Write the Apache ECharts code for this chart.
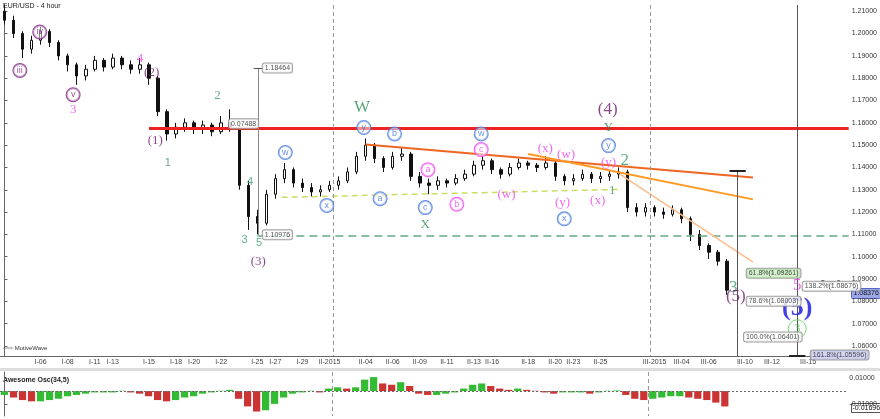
<!DOCTYPE html>
<html><head><meta charset="utf-8">
<script src="https://cdn.jsdelivr.net/npm/echarts@6/dist/echarts.min.js"></script>
<style>html,body{margin:0;padding:0;background:#fff}#c{width:880px;height:419px}</style>
</head><body><div id="c"></div>
<script>
const SLOTS = 94;
const labelSlots = [4,7,10,12,16,19,21,24,28,30,33,36,40,43,46,49,52,54,58,61,63,66,72,75,78,82,85,89];
const labelTexts = ['I-06','I-08','I-11','I-13','I-15','I-18','I-20','I-22','I-25','I-27','I-29','II-2015','II-04','II-06','II-09','II-11','II-13','II-16','II-18','II-20','II-23','II-25','III-2015','III-04','III-06','III-10','III-12','III-15'];
// [open, close, low, high]
const ohlc = [
[1.210,1.206,1.204,1.213],[1.206,1.200,1.198,1.208],[1.200,1.193,1.189,1.201],[1.193,1.197,1.191,1.199],
[1.197,1.201,1.195,1.203],[1.201,1.196,1.194,1.202],[1.196,1.190,1.188,1.197],[1.190,1.186,1.183,1.191],
[1.186,1.181,1.177,1.187],[1.181,1.184,1.179,1.186],[1.184,1.188,1.183,1.190],[1.188,1.185,1.183,1.189],
[1.185,1.189,1.184,1.191],[1.189,1.186,1.184,1.190],[1.186,1.184,1.182,1.188],[1.184,1.186,1.182,1.189],
[1.186,1.180,1.177,1.187],[1.180,1.165,1.163,1.181],[1.165,1.155,1.152,1.166],[1.155,1.158,1.153,1.160],
[1.158,1.160,1.156,1.162],[1.160,1.157,1.155,1.161],[1.157,1.159,1.155,1.161],[1.159,1.156,1.154,1.160],
[1.156,1.160,1.155,1.163],[1.160,1.158,1.156,1.166],[1.158,1.132,1.130,1.159],[1.132,1.118,1.112,1.134],
[1.118,1.115,1.110,1.121],[1.115,1.128,1.114,1.130],[1.128,1.135,1.126,1.137],[1.135,1.139,1.133,1.142],
[1.139,1.133,1.131,1.140],[1.133,1.131,1.129,1.135],[1.131,1.129,1.127,1.133],[1.129,1.130,1.127,1.132],
[1.130,1.132,1.129,1.134],[1.132,1.134,1.130,1.136],[1.134,1.138,1.133,1.140],[1.138,1.145,1.137,1.147],
[1.145,1.150,1.143,1.153],[1.150,1.144,1.142,1.151],[1.144,1.140,1.138,1.145],[1.140,1.145,1.139,1.147],
[1.145,1.146,1.143,1.149],[1.146,1.136,1.134,1.147],[1.136,1.133,1.131,1.138],[1.133,1.132,1.128,1.135],
[1.132,1.134,1.130,1.136],[1.134,1.133,1.131,1.135],[1.133,1.135,1.132,1.137],[1.135,1.137,1.134,1.139],
[1.137,1.141,1.136,1.143],[1.141,1.143,1.139,1.145],[1.143,1.139,1.137,1.144],[1.139,1.137,1.135,1.140],
[1.137,1.140,1.136,1.142],[1.140,1.142,1.139,1.144],[1.142,1.141,1.139,1.143],[1.141,1.140,1.138,1.142],
[1.140,1.142,1.139,1.145],[1.142,1.136,1.134,1.143],[1.136,1.134,1.132,1.137],[1.134,1.135,1.132,1.137],
[1.135,1.137,1.134,1.139],[1.137,1.135,1.133,1.138],[1.135,1.136,1.133,1.138],[1.136,1.137,1.134,1.139],
[1.137,1.138,1.135,1.140],[1.138,1.122,1.120,1.139],[1.122,1.120,1.118,1.124],[1.120,1.122,1.118,1.124],
[1.122,1.120,1.118,1.123],[1.120,1.119,1.117,1.122],[1.119,1.121,1.118,1.123],[1.121,1.117,1.115,1.122],
[1.117,1.110,1.107,1.118],[1.110,1.105,1.103,1.112],[1.105,1.102,1.099,1.106],[1.102,1.098,1.096,1.103],
[1.098,1.085,1.083,1.099]];
const ao = [-0.003,-0.005,-0.007,-0.008,-0.008,-0.007,-0.006,-0.004,-0.003,-0.002,-0.001,-0.001,
-0.001,0.0003,-0.001,-0.002,-0.004,-0.007,-0.008,-0.007,-0.005,-0.004,-0.002,-0.001,0.0003,0.001,
-0.006,-0.012,-0.016,-0.015,-0.010,-0.005,-0.002,-0.001,0.0003,-0.001,0.002,0.003,0.002,0.003,
0.009,0.011,0.006,0.005,0.007,0.004,-0.002,-0.003,-0.003,-0.002,-0.001,0.002,0.005,0.006,0.004,
0.002,0.001,0.002,0.001,0.0003,-0.001,-0.002,-0.001,-0.001,-0.001,-0.002,-0.001,0.0003,0.0005,
-0.003,-0.006,-0.007,-0.006,-0.005,-0.004,-0.004,-0.005,-0.006,-0.007,-0.009,-0.012];
const priceTicks = [1.06,1.07,1.08,1.09,1.10,1.11,1.12,1.13,1.14,1.15,1.16,1.17,1.18,1.19,1.20,1.21];
// [slot, price, text, color, style]
const notes = [
[1.7,1.1835,'iii','#7b1f7b','c'],[3.9,1.2007,'iv','#7b1f7b','c'],[7.6,1.1726,'v','#7b1f7b','c'],
[7.6,1.166,'3','#ee44ee','t'],[15,1.189,'4','#ee44ee','t'],[16.3,1.1824,'(2)','#6b1a6b','t'],
[16.7,1.152,'(1)','#6b1a6b','t'],[18.1,1.142,'1','#4a8a6a','s'],[23.6,1.172,'2','#3a9a6a','t'],
[27.2,1.1333,'4','#3a9a6a','s'],[26.6,1.1074,'3','#3a9a6a','s'],[28.2,1.106,'5','#3a9a6a','s'],
[28.1,1.098,'(3)','#6b1a6b','t'],[31.1,1.1467,'w','#4477dd','c'],[35.7,1.123,'x','#4477dd','c'],
[39.6,1.1668,'W','#2e8b57','b'],[39.8,1.1579,'y','#4477dd','c'],[41.6,1.126,'a','#4477dd','c'],
[43.2,1.155,'b','#4477dd','c'],[46.6,1.122,'c','#4477dd','c'],[46.6,1.1146,'X','#2e8b57','t'],
[46.9,1.139,'a','#ee44ee','c'],[50.1,1.1235,'b','#ee44ee','c'],[52.8,1.148,'c','#ee44ee','c'],
[52.8,1.155,'w','#4477dd','c'],[55.6,1.128,'(w)','#ee44ee','t'],[59.9,1.1485,'(x)','#ee44ee','t'],
[62.2,1.1458,'(w)','#ee44ee','t'],[61.8,1.1244,'(y)','#ee44ee','t'],[62,1.117,'x','#4477dd','c'],
[66.9,1.142,'(y)','#ee44ee','t'],[66.9,1.1498,'y','#4477dd','c'],[66.8,1.166,'(4)','#6b1a6b','b'],
[66.9,1.158,'Y','#2e8b57','t'],[68.7,1.143,'2','#3a9a6a','b'],[67.3,1.1297,'1','#3a9a6a','t'],
[65.7,1.125,'(x)','#ee44ee','t'],[80.7,1.0864,'3','#3a9a6a','b'],[81,1.082,'(5)','#6b1a6b','b'],
[87.8,1.0869,'5','#ee44ee','b'],[87.8,1.077,'(5)','#1010dd','x'],[87.8,1.0677,'3','#55cc55','g']];
// measurement boxes [slot, price, text, bg, align]
const boxes = [
[28.6,1.1846,'1.18464','#fff','left'],[28.1,1.1596,'0.07488','#fff','right'],[28.6,1.1098,'1.10976','#fff','left'],
[85.3,1.0929,'5 vs 1+3',null,'center'],[82.2,1.0926,'61.8%(1.09261)','#c8f0c0','left'],
[82.2,1.0800,'78.6%(1.08003)','#fff','left'],[81.9,1.0640,'100.0%(1.06401)','#fff','left'],
[91.5,1.0880,'5 vs 3',null,'center'],[88.4,1.0868,'138.2%(1.08676)','#fff','left'],
[89.3,1.0560,'161.8%(1.05596)','#c8cdf0','left']];
const C = document.getElementById('c');
const chart = echarts.init(C);
const cats = Array.from({length:SLOTS},(_,i)=>{const k=labelSlots.indexOf(i);return k>=0?labelTexts[k]:'';});
function noteItem(n){
  const [x,y,t,col,s]=n;
  let lab={show:true,formatter:t,color:col,fontFamily:'Times New Roman, Liberation Serif, serif',fontSize:13,position:'inside'};
  if(s==='c'){lab=Object.assign(lab,{fontFamily:'Liberation Sans',fontSize:9,borderColor:col,borderWidth:1,borderRadius:7,width:11,height:11,lineHeight:11,align:'center',padding:[1,1,1,1],backgroundColor:'rgba(255,255,255,0.6)'});}
  if(s==='s'){lab.fontSize=11;lab.fontFamily='Liberation Sans';}
  if(s==='t'){lab.fontSize=13;}
  if(s==='b'){lab.fontSize=17;}
  if(s==='x'){lab.fontSize=26;lab.fontWeight='bold';}
  if(s==='g'){lab=Object.assign(lab,{fontSize:13,borderColor:col,borderWidth:1,borderRadius:11,width:18,height:18,lineHeight:18,align:'center'});}
  return {value:[x,y],label:lab};
}
function boxItem(b){
  const [x,y,t,bg,al]=b;
  const lab={show:true,formatter:t,fontSize:7,color:'#222',fontFamily:'Liberation Sans',position:'inside',align:al};
  if(bg){Object.assign(lab,{backgroundColor:bg,borderColor:'#888',borderWidth:1,borderRadius:2,padding:[1,2]});}
  else lab.fontWeight='bold';
  return {value:[x,y],label:lab};
}
const ln=(a,b,color,width,type)=>[{coord:a,lineStyle:{color,width,type}},{coord:b}];
chart.setOption({
  animation:false,
  grid:[{left:0,right:31,top:5,bottom:63},{left:0,right:31,top:372,bottom:3}],
  xAxis:[
    {type:'category',gridIndex:0,data:cats,boundaryGap:true,
     axisLine:{lineStyle:{color:'#666'}},
     axisTick:{interval:(i)=>labelSlots.includes(i),length:4,lineStyle:{color:'#666'}},
     axisLabel:{interval:(i)=>labelSlots.includes(i),fontSize:7,color:'#444',margin:3}},
    {type:'category',gridIndex:1,data:cats,axisLine:{show:false},axisTick:{show:false},axisLabel:{show:false}},
    {type:'value',gridIndex:0,min:-0.5,max:SLOTS-0.5,show:false},
    {type:'value',gridIndex:1,min:-0.5,max:SLOTS-0.5,show:false}
  ],
  yAxis:[
    {type:'value',gridIndex:0,position:'right',min:1.0555,max:1.2128,splitLine:{show:false},
     axisLine:{show:true,lineStyle:{color:'#666'}},axisTick:{show:true,customValues:priceTicks,length:3},
     axisLabel:{customValues:priceTicks,formatter:v=>v.toFixed(5),fontSize:7,color:'#333',margin:3}},
    {type:'value',gridIndex:1,position:'right',min:-0.0195,max:0.015,splitLine:{show:false},
     axisLine:{show:true,lineStyle:{color:'#666'}},axisTick:{show:true,customValues:[-0.01,0.01],length:3},
     axisLabel:{customValues:[-0.01,0.01],formatter:v=>v.toFixed(5),fontSize:7,color:'#333',margin:3}}
  ],
  graphic:[
    {type:'text',left:3,top:3,style:{text:'EUR/USD - 4 hour',fontSize:7,fill:'#222',fontFamily:'Liberation Sans'}},
    {type:'text',left:3,top:345,style:{text:'⇦⇨ MotiveWave',fontSize:6,fill:'#333',fontFamily:'Liberation Sans'}},
    {type:'text',left:3,top:377,style:{text:'Awesome Osc(34,5)',fontSize:7,fill:'#222',fontWeight:'bold',fontFamily:'Liberation Sans'}},
    {type:'rect',left:0,top:368,shape:{width:880,height:3},style:{fill:'#ddd'}},
    {type:'group',left:851,top:288,children:[
      {type:'rect',shape:{width:29,height:10,r:1},style:{fill:'#9aa6e8',stroke:'#5566bb'}},
      {type:'text',x:2,y:1.5,style:{text:'1.08376',fontSize:7,fill:'#111'}}]},
    {type:'group',left:851,top:403,children:[
      {type:'rect',shape:{width:29,height:9},style:{fill:'#fff',stroke:'#555'}},
      {type:'text',x:1,y:1,style:{text:'-0.01696',fontSize:7,fill:'#111'}}]}
  ],
  series:[
    {type:'candlestick',xAxisIndex:0,yAxisIndex:0,data:ohlc,barWidth:3,
     itemStyle:{color:'#fff',color0:'#111',borderColor:'#111',borderColor0:'#111',borderWidth:1}},
    {type:'line',xAxisIndex:2,yAxisIndex:0,data:[],symbol:'none',
     markLine:{symbol:'none',silent:true,label:{show:false},data:[
       ln([16,1.1574],[93.5,1.1574],'#ee2222',3,'solid'),
       ln([28,1.1096],[93.5,1.1096],'#66aa88',1.5,[8,5]),
       ln([30.7,1.1266],[68.4,1.1302],'#ccdd66',1.5,[6,4]),
       ln([40,1.1503],[82.9,1.1355],'#ee6622',2,'solid'),
       ln([58,1.146],[82.9,1.1257],'#ff9922',2,'solid'),
       ln([68.2,1.1369],[82.9,1.0976],'#ffbb88',1.5,'solid'),
       ln([28.1,1.1846],[28.1,1.1098],'#888',1,'solid'),
       ln([81.2,1.1385],[81.2,1.0555],'#555',1,'solid'),
       ln([87.8,1.2128],[87.8,1.0555],'#555',1,'solid'),
       ln([36.4,1.2128],[36.4,1.0555],'#999',1,[4,3]),
       ln([71.5,1.2128],[71.5,1.0555],'#999',1,[4,3]),
       ln([80.3,1.1385],[82.1,1.1385],'#222',2,'solid'),
       ln([86.9,1.0558],[88.7,1.0558],'#222',2,'solid'),
       ln([27.6,1.1846],[28.6,1.1846],'#555',1,'solid')
     ]}},
    {type:'scatter',xAxisIndex:2,yAxisIndex:0,symbolSize:0,data:notes.map(noteItem),z:10},
    {type:'scatter',xAxisIndex:2,yAxisIndex:0,symbolSize:0,data:boxes.map(boxItem),z:10},
    {type:'bar',xAxisIndex:1,yAxisIndex:1,barWidth:'80%',
     data:ao.map((v,i)=>({value:v,itemStyle:{color:(i>0&&v<ao[i-1])?'#cc3333':'#33bb33'}})),
     markLine:{symbol:'none',silent:true,label:{show:false},lineStyle:{color:'#666',type:[2,2],width:1},data:[{yAxis:0}]}},
    {type:'line',xAxisIndex:3,yAxisIndex:1,data:[],
     markLine:{symbol:'none',silent:true,label:{show:false},data:[
       ln([36.4,0.015],[36.4,-0.0195],'#999',1,[4,3]),
       ln([71.5,0.015],[71.5,-0.0195],'#999',1,[4,3])]}}
  ]
});
</script></body></html>
